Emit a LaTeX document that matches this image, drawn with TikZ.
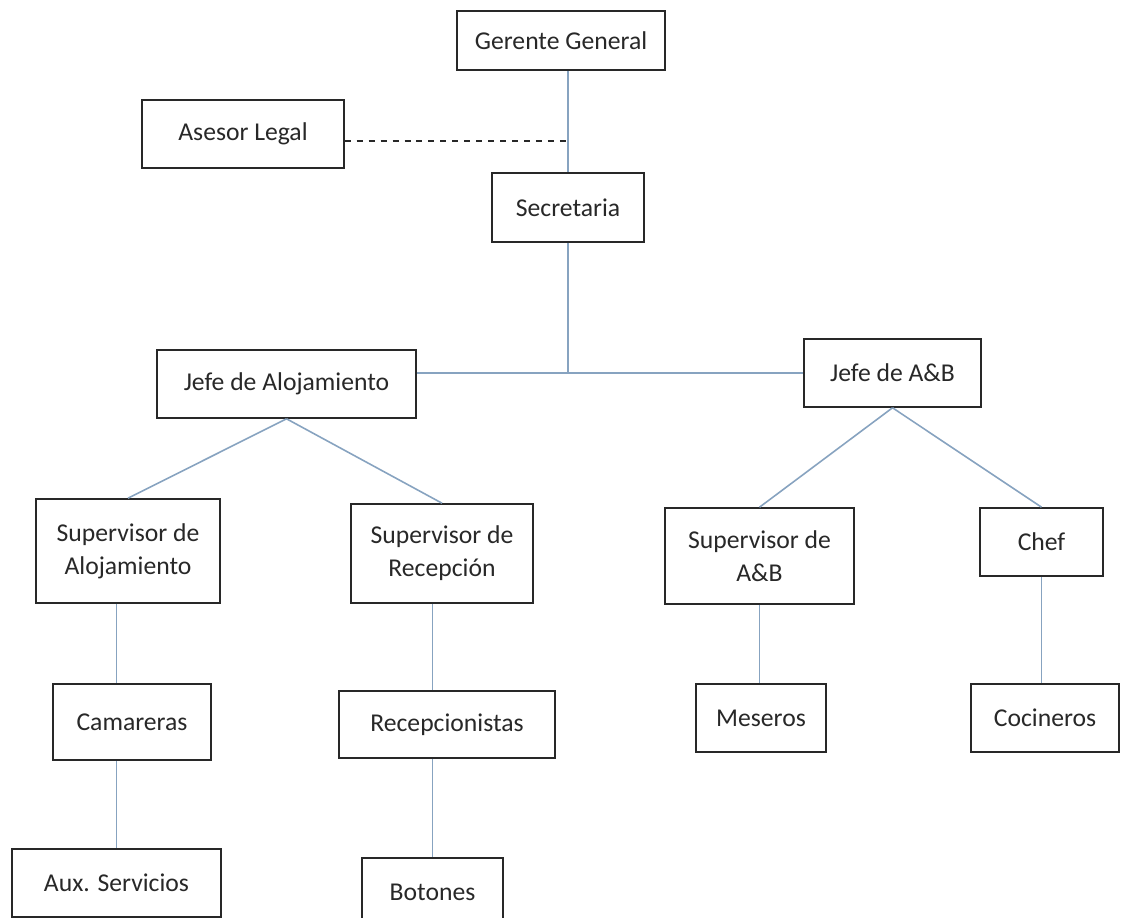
\documentclass[tikz,border=0pt]{standalone}
\usepackage{fontspec}
\setmainfont{Carlito}

\definecolor{borde}{RGB}{40,40,40}
\definecolor{enlace}{RGB}{135,163,192}

\tikzset{
  caja/.style={draw=borde, line width=0.9pt, fill=white, align=center, inner sep=0pt,
    text=borde, font=\fontsize{14.6}{18.7}\selectfont},
  tam/.style 2 args={minimum width=#1*0.02cm, minimum height=#2*0.02cm},
  linea/.style={draw=enlace, line width=0.9pt}
}

\begin{document}
\begin{tikzpicture}[x=0.02cm, y=-0.02cm]

    % marco
    \useasboundingbox (0,0) rectangle (1121,918);
    \clip (0,0) rectangle (1121,918);
    \fill[white] (0,0) rectangle (1121,918);

    % direccion
    \node[caja, tam={208}{59}] (gerente) at (561,40.5) {Gerente General};
    \node[caja, tam={202}{68}] (asesor) at (243,134) {Asesor Legal};
    \node[caja, tam={152}{69}] (secretaria) at (568,207.5) {Secretaria};
    \coordinate (apoyo) at (566,141);
    \coordinate (cruce) at (568,373);

    % jefaturas
    \node[caja, tam={259}{68}] (jefeAloj) at (286.5,384) {Jefe de Alojamiento};
    \node[caja, tam={177}{68}] (jefeAB) at (892.5,373) {Jefe de A\&B};

    % supervisores
    \node[caja, tam={184}{104}] (supAloj) at (128,551) {Supervisor de\\Alojamiento};
    \node[caja, tam={182}{99}] (supRec) at (442,553.5) {Supervisor de\\Recepción};
    \node[caja, tam={189}{96}] (supAB) at (759.5,556) {Supervisor de\\A\&B};
    \node[caja, tam={123}{68}] (chef) at (1041.5,542) {Chef};

    % personal
    \node[caja, tam={158}{76}] (camareras) at (132,722) {Camareras};
    \node[caja, tam={216}{67}] (recep) at (447,724.5) {Recepcionistas};
    \node[caja, tam={130}{68}] (meseros) at (761,718) {Meseros};
    \node[caja, tam={148}{68}] (cocineros) at (1045,718) {Cocineros};
    \node[caja, tam={209}{68}] (aux) at (116.5,883) {Aux. Servicios};
    \node[caja, tam={141}{68}] (botones) at (432.5,892) {Botones};

    % enlaces
    \draw[linea] (gerente.south -| secretaria.north) -- (secretaria.north);
    \draw[borde, line width=0.9pt, dash pattern=on 3.4pt off 3.4pt] (asesor.east |- apoyo) -- (apoyo);
    \draw[linea] (secretaria.south) -- (cruce);
    \draw[linea] (jefeAloj.east |- cruce) -- (jefeAB.west);
    \draw[linea] (jefeAloj.south) -- (supAloj.north);
    \draw[linea] (jefeAloj.south) -- (supRec.north);
    \draw[linea] (jefeAB.south) -- (supAB.north);
    \draw[linea] (jefeAB.south) -- (chef.north);
    \draw[linea] (supAloj.south -| aux.north) -- (camareras.north -| aux.north);
    \draw[linea] (camareras.south -| aux.north) -- (aux.north);
    \draw[linea] (supRec.south -| botones.north) -- (recep.north -| botones.north);
    \draw[linea] (recep.south -| botones.north) -- (botones.north);
    \draw[linea] (supAB.south) -- (supAB.south |- meseros.north);
    \draw[linea] (chef.south) -- (chef.south |- cocineros.north);

\end{tikzpicture}
\end{document}
